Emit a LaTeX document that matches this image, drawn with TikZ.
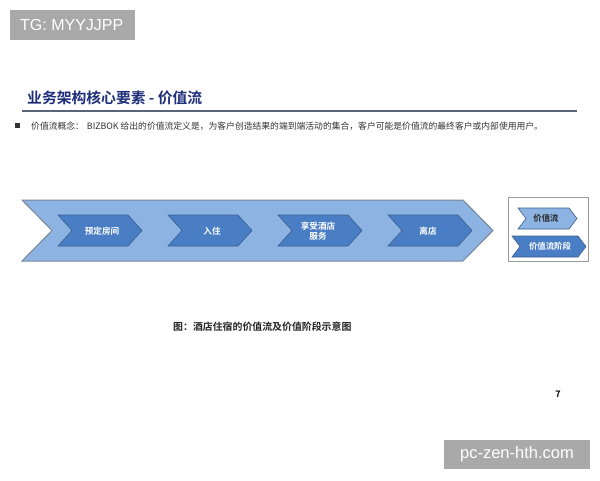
\documentclass[tikz,border=0pt]{standalone}
\usepackage{fontspec}
\setmainfont{Noto Sans CJK SC}[BoldFont={Noto Sans CJK SC Bold}]
\newfontfamily\wmfont{Liberation Sans}
\definecolor{bigfill}{HTML}{8DB3E2}
\definecolor{bigline}{HTML}{7A8699}
\definecolor{smfill}{HTML}{4A7EC4}
\definecolor{smline}{HTML}{3A5F8F}
\definecolor{titleblue}{HTML}{1F2E7A}
\definecolor{rulecol}{HTML}{5A6478}
\definecolor{wmgray}{HTML}{A9A9A9}
\definecolor{txtgray}{HTML}{333333}
\newcommand\chevshape[6]{%
  \draw[#1] (#2,#4) -- ({#3-#6},#4) -- (#3,{(#4+#5)/2}) -- ({#3-#6},#5) -- (#2,#5) -- ({#2+#6},{(#4+#5)/2}) -- cycle;}
\tikzset{
  bigchev/.style={fill=bigfill, draw=bigline, line width=1pt, line join=miter},
  smchev/.style={fill=smfill, draw=smline, line width=0.6pt},
  lgchev/.style={fill=bigfill, draw=smline, line width=0.6pt},
  chevtext/.style={text=white, font=\bfseries\fontsize{8.6}{10.5}\selectfont, align=center},
  lgtext/.style={text=txtgray!80!black, font=\bfseries\fontsize{8.4}{10}\selectfont},
  wmbox/.style={fill=wmgray, inner sep=0pt},
}
\begin{document}
\begin{tikzpicture}[x=1pt,y=-1pt]
\useasboundingbox (0,0) rectangle (600,480);
\fill[white] (0,0) rectangle (600,480);
% watermark top-left
\fill[wmgray] (10,10) rectangle (135,40);
\node[text=white, font=\wmfont\fontsize{16}{18}\selectfont, anchor=west, inner sep=0pt] (wm1) at (20,25) {TG: MYYJJPP};
% title
\node[anchor=west, text=titleblue, font=\bfseries\fontsize{14.8}{17}\selectfont, inner sep=0pt] (title) at (27,98) {业务架构核心要素 - 价值流};
\coordinate (rl) at (22,111);
\coordinate (rr) at (577,111);
\draw[rulecol, line width=1.2pt] (rl) -- (rr);
% bullet
\fill[txtgray] (15,123) rectangle (20,128);
\node[anchor=west, inner sep=0pt, text=txtgray, font=\fontsize{8.8}{10}\selectfont] (bul) at (31,126) {价值流概念：\hspace{3pt}BIZBOK 给出的价值流定义是，为客户创造结果的端到端活动的集合，客户可能是价值流的最终客户或内部使用用户。};
% big chevron
\chevshape{bigchev}{22}{493}{200}{261}{30}
% stage chevrons
\chevshape{smchev}{58}{142}{215}{246}{14}
\chevshape{smchev}{168}{252}{215}{246}{14}
\chevshape{smchev}{278}{362}{215}{246}{14}
\chevshape{smchev}{388}{472}{215}{246}{14}
\node[chevtext] (s1) at (102,231) {预定房间};
\node[chevtext] (s2) at (212,231) {入住};
\node[chevtext] (s3) at (318,231) {享受酒店\\服务};
\node[chevtext] (s4) at (428,231) {离店};
% legend
\draw[fill=white, draw=gray!80, line width=0.8pt] (508,197) rectangle (588,261);
\chevshape{lgchev}{518}{577}{208}{229}{8}
\chevshape{smchev}{512}{586}{236}{257}{8}
\node[lgtext] (l1) at (546,218.5) {价值流};
\node[lgtext, text=white] (l2) at (550,246.5) {价值流阶段};
% caption
\node[anchor=west, inner sep=0pt, text=txtgray!70!black, font=\bfseries\fontsize{9.9}{11}\selectfont] (cap) at (173,327) {图：酒店住宿的价值流及价值阶段示意图};
% page number
\node[font=\bfseries\fontsize{9}{10}\selectfont, text=black] (pg) at (558,394) {7};
% watermark bottom-right
\fill[wmgray] (444,440) rectangle (590,469);
\node[text=white, font=\wmfont\fontsize{16.5}{18}\selectfont] (wm2) at (517,454.5) {pc-zen-hth.com};
\end{tikzpicture}
\end{document}
